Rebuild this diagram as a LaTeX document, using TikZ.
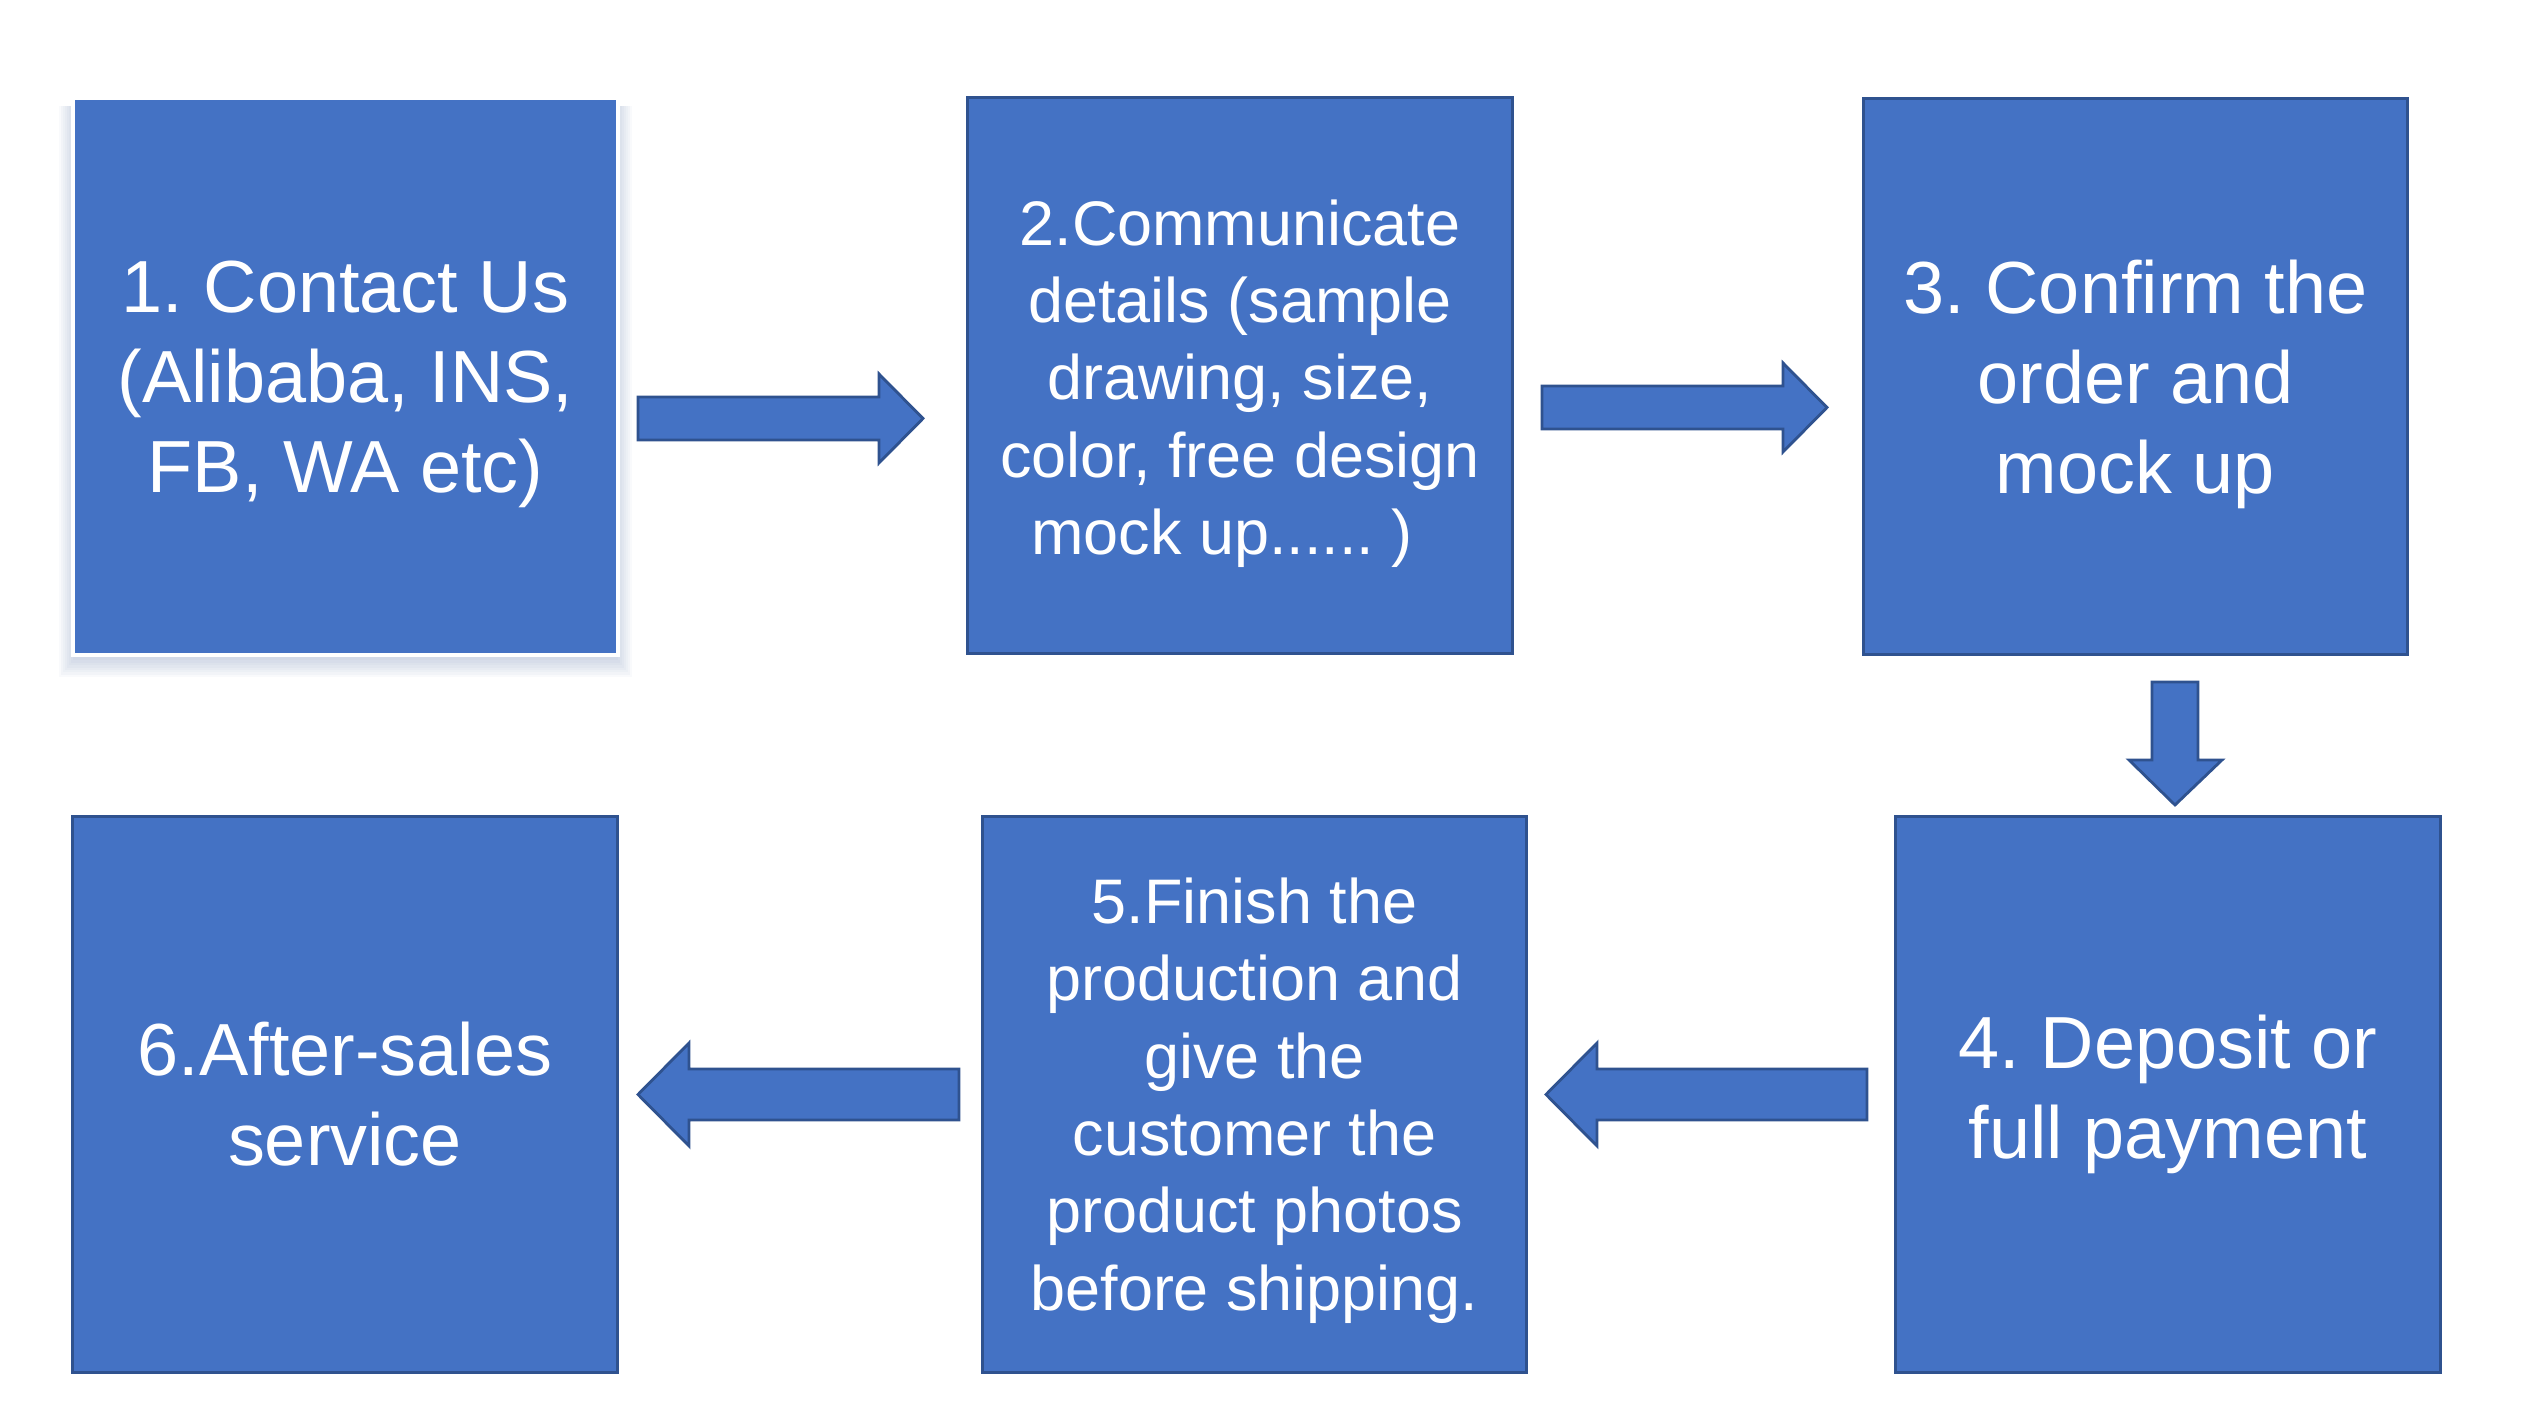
\documentclass[tikz,border=0pt]{standalone}
\usepackage{fontspec}
\setmainfont{Liberation Sans}
\usepackage{tikz}
\usepackage{xcolor}
\definecolor{boxBlue}{HTML}{4472C4}
\definecolor{edgeBlue}{HTML}{2F528F}
\frenchspacing

\begin{document}
\begin{tikzpicture}[x=0.01cm, y=-0.01cm,
  stepbox/.style={draw=edgeBlue, line width=0.9pt, fill=boxBlue, minimum width=5.44cm, minimum height=5.56cm, inner sep=0pt},
  steptext/.style={text=white, align=center, inner sep=0pt},
  bigtext/.style={font=\fontsize{21}{25.6}\selectfont},
  smalltext/.style={font=\fontsize{17.9}{22}\selectfont},
  blockarrow/.style={draw=edgeBlue, line width=0.8pt, fill=boxBlue, line join=miter}]
  \useasboundingbox (0,0) rectangle (2529,1407);
  % soft shadow under the first box
  \foreach \s in {2,4,...,16}
    \fill[boxBlue!60!gray, opacity=0.04] (75-\s,106) rectangle (616+\s,658+1.2*\s);
  \node[stepbox, draw=white, line width=1.2pt] (contact) at (345.5,376.5) {};
  \node[stepbox] (details) at (1240,375.5) {};
  \node[stepbox] (confirm) at (2135.5,376.5) {};
  \node[stepbox] (deposit) at (2168,1094.5) {};
  \node[stepbox] (finish) at (1254.5,1094.5) {};
  \node[stepbox] (aftersales) at (345,1094.5) {};
  \node[steptext, bigtext] (contacttext) at ([yshift=-0.08cm]contact.center) {1. Contact Us\\(Alibaba, INS,\\FB, WA etc)};
  \node[steptext, smalltext] (detailstext) at ([yshift=-0.08cm]details.center) {2.Communicate\\details (sample\\drawing, size,\\color, free design\\mock up...... )\hspace*{0.36cm}};
  \node[steptext, bigtext] (confirmtext) at ([yshift=-0.08cm]confirm.center) {3. Confirm the\\order and\\mock up};
  \node[steptext, bigtext] (deposittext) at (deposit.center) {4. Deposit or\\full payment};
  \node[steptext, smalltext] (finishtext) at ([yshift=-0.06cm]finish.center) {5.Finish the\\production and\\give the\\customer the\\product photos\\before shipping.};
  \node[steptext, bigtext] (aftersalestext) at (aftersales.center) {6.After-sales\\service};
  % block arrows
  \draw[blockarrow] (638,397) -- (879,397) -- (879,374) -- (923,418.5) -- (879,463) -- (879,440) -- (638,440) -- cycle;
  \draw[blockarrow] (1542,386) -- (1783,386) -- (1783,363) -- (1827,407.5) -- (1783,452) -- (1783,429) -- (1542,429) -- cycle;
  \draw[blockarrow] (2152,682) -- (2198,682) -- (2198,760) -- (2222,760) -- (2175,805) -- (2129,760) -- (2152,760) -- cycle;
  \draw[blockarrow] (1867,1069) -- (1597,1069) -- (1597,1043) -- (1546,1094.5) -- (1597,1146) -- (1597,1120) -- (1867,1120) -- cycle;
  \draw[blockarrow] (959,1069) -- (689,1069) -- (689,1043) -- (638,1094.5) -- (689,1146) -- (689,1120) -- (959,1120) -- cycle;
\end{tikzpicture}
\end{document}
